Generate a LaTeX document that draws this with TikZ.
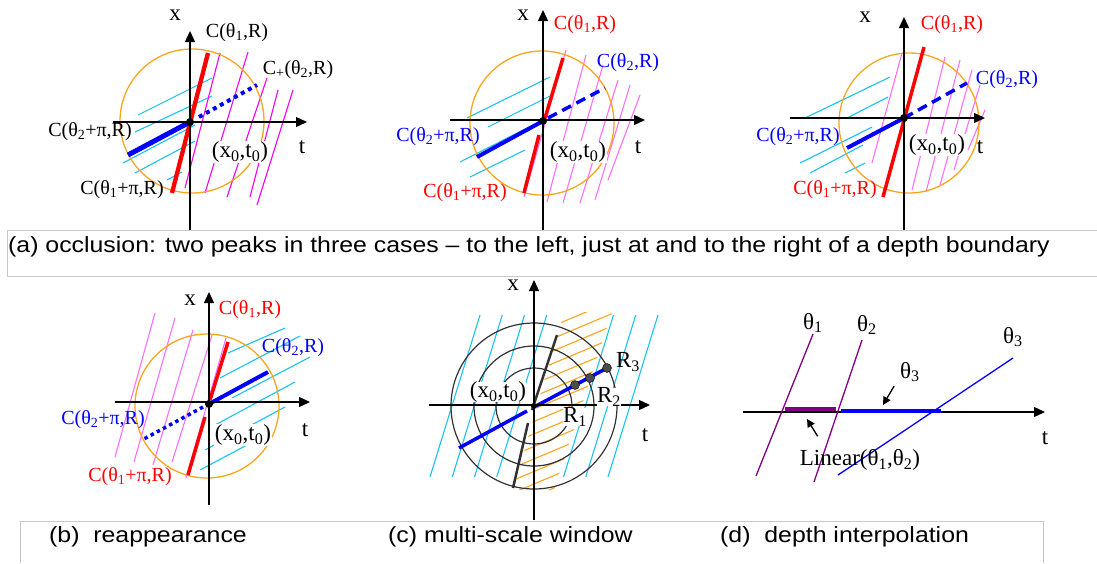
\documentclass[tikz,border=0pt]{standalone}
\usepackage{fontspec}
\setmainfont{Liberation Serif}
\newfontfamily\capfont[FakeStretch=1.13]{Liberation Sans}
\usetikzlibrary{arrows.meta}
\definecolor{orng}{RGB}{250,165,30}
\definecolor{cyn}{RGB}{25,195,240}
\definecolor{mag}{RGB}{240,0,240}
\definecolor{magl}{RGB}{255,110,255}
\definecolor{ringc}{RGB}{50,50,50}
\definecolor{boxc}{RGB}{200,200,200}
\definecolor{purp}{RGB}{128,0,128}
\def\xt{(x\textsubscript{0},t\textsubscript{0})}
\def\cc#1{C(θ\textsubscript{#1},R)}
\def\ccp#1{C(θ\textsubscript{#1}+π,R)}
\tikzset{
  axis/.style={line width=1.3pt,-{Triangle[length=11pt,width=10pt]}},
  ptr/.style={line width=1.3pt,-{Triangle[length=8pt,width=8pt]}},
  hc/.style={cyn,line width=1.1pt},
  hm/.style={mag,line width=1.1pt},
  hml/.style={magl,line width=1.1pt},
  ring/.style={orng,line width=1.3pt},
  redl/.style={red,line width=3.5pt},
  bluel/.style={blue,line width=4pt},
  lbl/.style={font=\fontsize{20}{22}\selectfont,inner sep=1pt},
  big/.style={font=\fontsize{23}{26}\selectfont,inner sep=1pt},
  captxt/.style={font=\capfont\fontsize{22}{24}\selectfont,anchor=west,inner sep=0pt},
  boxl/.style={boxc,line width=1pt},
}
\begin{document}
\begin{tikzpicture}[x=1pt,y=-1pt]
\useasboundingbox (0,0) rectangle (1097,563);
\draw[boxl] (7,230) rectangle (1097,276);
\draw[boxl] (20,563) -- (20,521) -- (1043,521) -- (1043,563);
\node[captxt] (capa) at (8,247) {(a) occlusion: two peaks in three cases – to the left, just at and to the right of a depth boundary};
\node[captxt] (capb) at (49,537) {(b)~~reappearance};
\node[captxt] (capc) at (388,537) {(c) multi-scale window};
\node[captxt] (capd) at (720,537) {(d)~~depth interpolation};

\foreach \xa/\ya/\xb/\yb in {138/115/212/78,135/132/212/96,123/163/195/125,135/173/195/141,167/180/182/172}
  \draw[hc] (\xa,\ya) -- (\xb,\yb);
\foreach \xa/\ya/\xb/\yb in {185/188/220/53,205/193/248/52,227/197/267/78,250/197/278/90,257/205/293/90}
  \draw[hm] (\xa,\ya) -- (\xb,\yb);
\draw[ring] (192,121) circle (72);
\draw[redl,line width=4.3pt] (172,193) -- (208,53);
\draw[bluel,line width=5pt] (128,155) -- (190,122);
\draw[bluel,dash pattern=on 4pt off 4pt] (199,117) -- (257,85);
\draw[axis] (190,230) -- (190,31);
\draw[axis] (113,122) -- (307,122);
\fill (190,122) circle (4);
\node[big] (xa1) at (175,15) {x};
\node[big] (ta1) at (302,147) {t};
\node[lbl] (c1a1) at (237,33) {\cc1};
\node[lbl] (c2a1) at (298,70) {C\textsubscript{+}(θ\textsubscript{2},R)};
\node[lbl] (c3a1) at (90,132) {\ccp2};
\node[lbl] (c4a1) at (122,190) {\ccp1};
\node[big,fill=white] (oa1) at (240,152) {\xt};

\foreach \xa/\ya/\xb/\yb in {467/118/550/77,488/127/550/96,460/162/533/125,470/177/525/150}
  \draw[hc] (\xa,\ya) -- (\xb,\yb);
\foreach \xa/\ya/\xb/\yb in {524/197/566/50,547/202/586/55,563/203/603/65,580/203/618/80,595/200/630/85,608/180/640/95}
  \draw[hml] (\xa,\ya) -- (\xb,\yb);
\draw[ring] (542,123) circle (72);
\draw[redl] (545,118) -- (563,58) (539,135) -- (524,193);
\draw[bluel] (477,157) -- (543,121);
\draw[bluel,line width=3.5pt,dash pattern=on 10pt off 6pt] (548,118) -- (605,88);
\draw[axis] (543,230) -- (543,10);
\draw[axis] (450,120) -- (645,120);
\fill (543,121) circle (4);
\node[big] (xa2) at (523,15) {x};
\node[big] (ta2) at (638,147) {t};
\node[lbl,red] (c1a2) at (585,25) {\cc1};
\node[lbl,blue] (c2a2) at (628,63) {\cc2};
\node[lbl,blue] (c3a2) at (438,137) {\ccp2};
\node[lbl,red] (c4a2) at (465,193) {\ccp1};
\node[big,fill=white] (oa2) at (578,152) {\xt};

\foreach \xa/\ya/\xb/\yb in {805/118/890/77,847/118/888/97,800/163/872/127,810/173/863/145,845/173/865/163}
  \draw[hc] (\xa,\ya) -- (\xb,\yb);
\foreach \xa/\ya/\xb/\yb in {872/163/902/53,912/190/945/57,926/192/960/60,940/185/972/70,954/170/980/85,968/150/985/110}
  \draw[hml] (\xa,\ya) -- (\xb,\yb);
\draw[ring] (909,123) circle (70);
\draw[redl] (883,197) -- (924,47);
\draw[bluel] (847,148) -- (904,118);
\draw[bluel,line width=3.5pt,dash pattern=on 10pt off 6pt] (904,118) -- (967,83);
\draw[axis] (904,230) -- (904,17);
\draw[axis] (790,118) -- (985,118);
\fill (904,118) circle (4);
\node[big] (xa3) at (865,17) {x};
\node[big] (ta3) at (980,147) {t};
\node[lbl,red] (c1a3) at (952,25) {\cc1};
\node[lbl,blue] (c2a3) at (1007,80) {\cc2};
\node[lbl,blue] (c3a3) at (798,137) {\ccp2};
\node[lbl,red] (c4a3) at (835,190) {\ccp1};
\node[big,fill=white] (oa3) at (937,145) {\xt};

\foreach \xa/\ya/\xb/\yb in {115/457/155/313,134/462/175/318,153/465/193/330,172/462/212/335,186/478/226/338}
  \draw[hml] (\xa,\ya) -- (\xb,\yb);
\foreach \xa/\ya/\xb/\yb in {228/353/285/328,220/378/300/336,232/398/310/357,215/425/295/382,205/450/285/407,200/470/260/438}
  \draw[hc] (\xa,\ya) -- (\xb,\yb);
\draw[ring] (207,406) circle (72);
\draw[redl] (210,400) -- (228,342) (205,417) -- (188,475);
\draw[bluel] (209,404) -- (268,372);
\draw[bluel,line width=3.5pt,dash pattern=on 3.5pt off 3.5pt] (203,407) -- (142,440);
\draw[axis] (209,505) -- (209,292);
\draw[axis] (115,402) -- (310,402);
\fill (209,404) circle (4);
\node[big] (xb) at (190,300) {x};
\node[big] (tb) at (305,430) {t};
\node[lbl,red] (c1b) at (250,310) {\cc1};
\node[lbl,blue] (c2b) at (293,348) {\cc2};
\node[lbl,blue] (c3b) at (103,420) {\ccp2};
\node[lbl,red] (c4b) at (130,477) {\ccp1};
\node[big,fill=white] (ob) at (243,435) {\xt};

\foreach \k in {0,...,8}
  \draw[hc] (430+22.25*\k,477) -- (480+22.25*\k,315);
\begin{scope}
  \clip (513,490) -- (564,312) -- (612,312) -- (554,490) -- cycle;
  \fill[white] (500,300) rectangle (630,500);
  \foreach \b in {340,352.5,...,520}
    \draw[orng,line width=1.1pt] (490,\b) -- (630,\b-59);
\end{scope}
\foreach \r in {38,60,83}
  \draw[ringc,line width=1.2pt] (534,406) circle (\r);
\draw[ringc,line width=2.5pt] (513,488) -- (528,423) (532,410) -- (557,335);
\draw[bluel,line width=3.5pt] (459,448) -- (527,411) (536,406) -- (607,368);
\draw[axis] (534,520) -- (534,280);
\draw[axis] (429,405) -- (650,405);
\fill (534,406) circle (3);
\foreach \p in {(575,385),(590,378),(607,368)}
  \filldraw[fill=black!70,draw=black] \p circle (4.5);
\node[big,fill=white] (xc) at (513,285) {x};
\node[big] (tc) at (645,435) {t};
\node[big,fill=white,inner sep=0pt] (oc) at (498,392) {\xt};
\node[big,fill=white,inner sep=0pt] (r1) at (575,417) {R\textsubscript{1}};
\node[big,fill=white,inner sep=0pt] (r2) at (609,397) {R\textsubscript{2}};
\node[big,inner sep=0pt] (r3) at (628,362) {R\textsubscript{3}};

\draw[axis] (743,412) -- (1045,412);
\draw[purp,line width=1.3pt] (756,476) -- (813,334);
\draw[purp,line width=1.3pt] (814,482) -- (862,340);
\draw[blue,line width=1.3pt] (838,475) -- (1013,358);
\draw[purp,line width=4.5pt] (785,409) -- (836,409);
\draw[blue,line width=4.5pt] (841,411) -- (941,411);
\node[big] (th1) at (813,323) {θ\textsubscript{1}};
\node[big] (th2) at (867,325) {θ\textsubscript{2}};
\node[big] (th3) at (1013,337) {θ\textsubscript{3}};
\node[big] (th3b) at (910,372) {θ\textsubscript{3}};
\node[big] (td) at (1045,438) {t};
\node[big] (lin) at (860,460) {Linear(θ\textsubscript{1},θ\textsubscript{2})};
\coordinate (s3) at (883,405);
\coordinate (sl) at (807,419);
\draw[ptr] ([shift={(-5,3)}]th3b.south west) -- (s3);
\draw[ptr] ([shift={(19,-12)}]lin.north west) -- (sl);
\end{tikzpicture}
\end{document}
